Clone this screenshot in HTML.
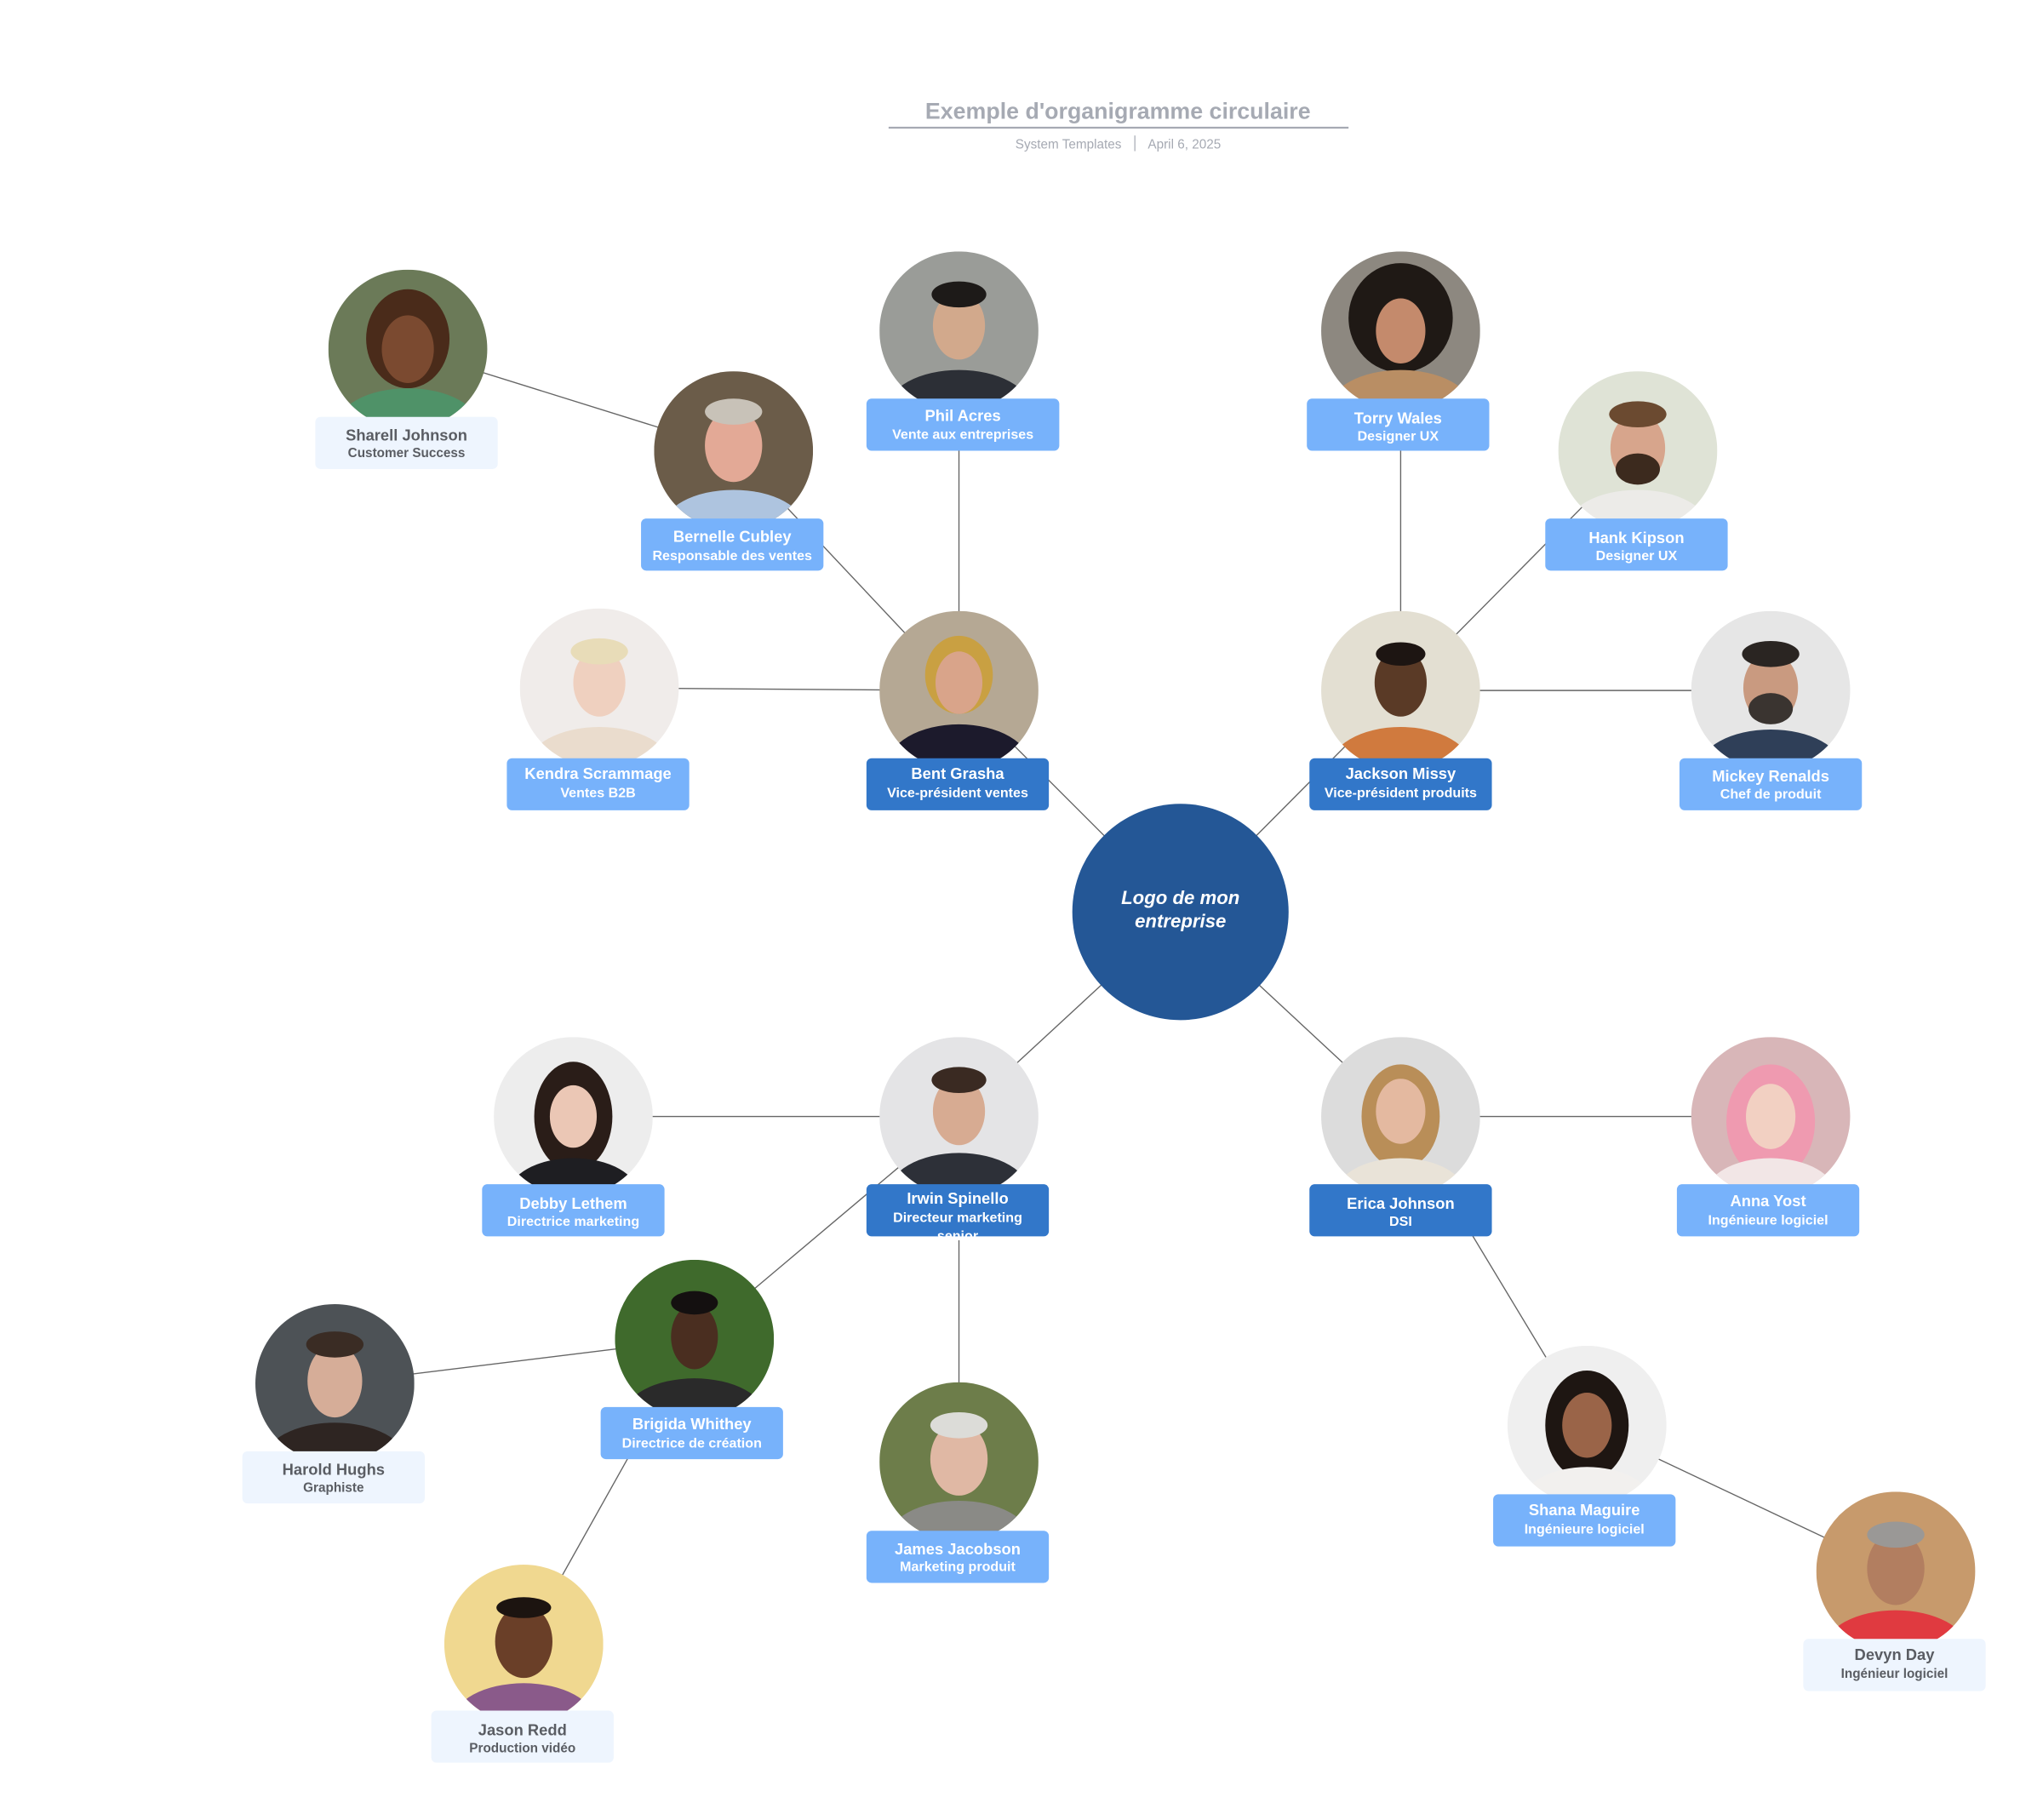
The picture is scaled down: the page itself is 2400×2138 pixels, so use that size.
<!DOCTYPE html>
<html><head><meta charset="utf-8"><style>
html,body{margin:0;padding:0;background:#fff;}
svg{display:block;}
text{font-family:"Liberation Sans",sans-serif;font-weight:bold;text-anchor:middle;}
.n{font-size:12px;fill:#fff;}
.r{font-size:10.5px;fill:#fff;}
.pn{font-size:12px;fill:#5a5d63;}
.pr{font-size:10px;fill:#5a5d63;}
</style></head><body>
<svg width="2400" height="2138" viewBox="0 0 1568 1397" preserveAspectRatio="none" xmlns="http://www.w3.org/2000/svg">
<defs><clipPath id="c"><circle cx="0" cy="0" r="61"/></clipPath></defs>
<rect width="1568" height="1397" fill="#fff"/>
<text x="858" y="91" style="font-size:17.5px;fill:#a6aab3">Exemple d'organigramme circulaire</text>
<line x1="682" y1="98" x2="1035" y2="98" stroke="#a6aab3" stroke-width="1.5"/>
<text x="820" y="114" style="font-size:10px;font-weight:normal;fill:#a6aab3">System Templates</text>
<line x1="871" y1="104" x2="871" y2="116" stroke="#a6aab3" stroke-width="0.8"/>
<text x="909" y="114" style="font-size:10px;font-weight:normal;fill:#a6aab3">April 6, 2025</text>

<g stroke="#666" stroke-width="0.9">
<line x1="906" y1="700" x2="736" y2="530"/>
<line x1="906" y1="700" x2="1075" y2="530"/>
<line x1="906" y1="700" x2="736" y2="857"/>
<line x1="906" y1="700" x2="1075" y2="857"/>
<line x1="736" y1="530" x2="736" y2="254"/>
<line x1="736" y1="530" x2="563" y2="346"/>
<line x1="736" y1="530" x2="460" y2="528"/>
<line x1="563" y1="346" x2="313" y2="268"/>
<line x1="1075" y1="530" x2="1075" y2="254"/>
<line x1="1075" y1="530" x2="1257" y2="346"/>
<line x1="1075" y1="530" x2="1359" y2="530"/>
<line x1="736" y1="857" x2="440" y2="857"/>
<line x1="736" y1="857" x2="533" y2="1028"/>
<line x1="736" y1="857" x2="736" y2="1122"/>
<line x1="533" y1="1028" x2="257" y2="1062"/>
<line x1="533" y1="1028" x2="402" y2="1262"/>
<line x1="1075" y1="857" x2="1359" y2="857"/>
<line x1="1075" y1="857" x2="1218" y2="1094"/>
<line x1="1218" y1="1094" x2="1455" y2="1206"/>
</g>

<circle cx="906" cy="700" r="83" fill="#245796"/>
<text x="906" y="694" style="font-size:14.5px;fill:#fff;font-style:italic">Logo de mon</text>
<text x="906" y="712" style="font-size:14.5px;fill:#fff;font-style:italic">entreprise</text>

<!-- photos -->
<g transform="translate(736,530)" clip-path="url(#c)"><rect x="-61" y="-61" width="122" height="122" fill="#b5a894"/><ellipse cx="0" cy="-12" rx="26" ry="30" fill="#c9a042"/><ellipse cx="0" cy="58" rx="55" ry="32" fill="#1c1a2c"/><ellipse cx="0" cy="-6" rx="18" ry="24" fill="#d9a48a"/></g>
<g transform="translate(1075,530)" clip-path="url(#c)"><rect x="-61" y="-61" width="122" height="122" fill="#e3dfd2"/><ellipse cx="0" cy="60" rx="55" ry="32" fill="#d07a3e"/><ellipse cx="0" cy="-6" rx="20" ry="26" fill="#5a3a26"/><ellipse cx="0" cy="-28" rx="19" ry="9" fill="#1d1512"/></g>
<g transform="translate(736,857)" clip-path="url(#c)"><rect x="-61" y="-61" width="122" height="122" fill="#e4e4e6"/><ellipse cx="0" cy="60" rx="55" ry="32" fill="#2d3038"/><ellipse cx="0" cy="-4" rx="20" ry="26" fill="#d7ab92"/><ellipse cx="0" cy="-28" rx="21" ry="10" fill="#3a2a22"/></g>
<g transform="translate(1075,857)" clip-path="url(#c)"><rect x="-61" y="-61" width="122" height="122" fill="#dcdcdc"/><ellipse cx="0" cy="0" rx="30" ry="40" fill="#b98e58"/><ellipse cx="0" cy="60" rx="50" ry="28" fill="#e9e3d8"/><ellipse cx="0" cy="-4" rx="19" ry="25" fill="#e4b9a0"/></g>
<g transform="translate(736,254)" clip-path="url(#c)"><rect x="-61" y="-61" width="122" height="122" fill="#9a9c98"/><ellipse cx="0" cy="60" rx="55" ry="30" fill="#2c2f36"/><ellipse cx="0" cy="-4" rx="20" ry="26" fill="#d2a98c"/><ellipse cx="0" cy="-28" rx="21" ry="10" fill="#1d1a18"/></g>
<g transform="translate(563,346)" clip-path="url(#c)"><rect x="-61" y="-61" width="122" height="122" fill="#6b5c49"/><ellipse cx="0" cy="60" rx="55" ry="30" fill="#aec4df"/><ellipse cx="0" cy="-4" rx="22" ry="28" fill="#e3a996"/><ellipse cx="0" cy="-30" rx="22" ry="10" fill="#c8c2b8"/></g>
<g transform="translate(313,268)" clip-path="url(#c)"><rect x="-61" y="-61" width="122" height="122" fill="#6b7a58"/><ellipse cx="0" cy="-8" rx="32" ry="38" fill="#4a2b1a"/><ellipse cx="0" cy="60" rx="55" ry="30" fill="#4f9268"/><ellipse cx="0" cy="0" rx="20" ry="26" fill="#7b4a30"/></g>
<g transform="translate(460,528)" clip-path="url(#c)"><rect x="-61" y="-61" width="122" height="122" fill="#f0ecea"/><ellipse cx="0" cy="60" rx="55" ry="30" fill="#eadccd"/><ellipse cx="0" cy="-4" rx="20" ry="26" fill="#efd0bf"/><ellipse cx="0" cy="-28" rx="22" ry="10" fill="#e8dcb8"/></g>
<g transform="translate(1075,254)" clip-path="url(#c)"><rect x="-61" y="-61" width="122" height="122" fill="#8d8880"/><ellipse cx="0" cy="-10" rx="40" ry="42" fill="#1f1915"/><ellipse cx="0" cy="60" rx="55" ry="30" fill="#b98e64"/><ellipse cx="0" cy="0" rx="19" ry="25" fill="#c48a6c"/></g>
<g transform="translate(1257,346)" clip-path="url(#c)"><rect x="-61" y="-61" width="122" height="122" fill="#dfe3d6"/><ellipse cx="0" cy="60" rx="55" ry="30" fill="#ecebe8"/><ellipse cx="0" cy="-2" rx="21" ry="27" fill="#d7a58c"/><ellipse cx="0" cy="14" rx="17" ry="12" fill="#3c2a1e"/><ellipse cx="0" cy="-28" rx="22" ry="10" fill="#6b4a30"/></g>
<g transform="translate(1359,530)" clip-path="url(#c)"><rect x="-61" y="-61" width="122" height="122" fill="#e6e6e6"/><ellipse cx="0" cy="60" rx="55" ry="30" fill="#2f3f58"/><ellipse cx="0" cy="-2" rx="21" ry="27" fill="#c99a80"/><ellipse cx="0" cy="14" rx="17" ry="12" fill="#3a3430"/><ellipse cx="0" cy="-28" rx="22" ry="10" fill="#2a2522"/></g>
<g transform="translate(440,857)" clip-path="url(#c)"><rect x="-61" y="-61" width="122" height="122" fill="#ededed"/><ellipse cx="0" cy="0" rx="30" ry="42" fill="#2a1d18"/><ellipse cx="0" cy="60" rx="50" ry="28" fill="#1e1e22"/><ellipse cx="0" cy="0" rx="18" ry="24" fill="#ebc7b5"/></g>
<g transform="translate(1359,857)" clip-path="url(#c)"><rect x="-61" y="-61" width="122" height="122" fill="#d8b6b8"/><ellipse cx="0" cy="4" rx="34" ry="44" fill="#ef9ab0"/><ellipse cx="0" cy="60" rx="50" ry="28" fill="#f2e6e6"/><ellipse cx="0" cy="0" rx="19" ry="25" fill="#f2d0c2"/></g>
<g transform="translate(533,1028)" clip-path="url(#c)"><rect x="-61" y="-61" width="122" height="122" fill="#3f6a2c"/><ellipse cx="0" cy="60" rx="55" ry="30" fill="#2a2a2a"/><ellipse cx="0" cy="-2" rx="18" ry="25" fill="#4a2e20"/><ellipse cx="0" cy="-28" rx="18" ry="9" fill="#141010"/></g>
<g transform="translate(257,1062)" clip-path="url(#c)"><rect x="-61" y="-61" width="122" height="122" fill="#4d5256"/><ellipse cx="0" cy="60" rx="55" ry="30" fill="#2e2522"/><ellipse cx="0" cy="-2" rx="21" ry="28" fill="#d6ad98"/><ellipse cx="0" cy="-30" rx="22" ry="10" fill="#3a2c24"/></g>
<g transform="translate(402,1262)" clip-path="url(#c)"><rect x="-61" y="-61" width="122" height="122" fill="#f0d890"/><ellipse cx="0" cy="60" rx="55" ry="30" fill="#8a5a8a"/><ellipse cx="0" cy="-2" rx="22" ry="28" fill="#6a3f28"/><ellipse cx="0" cy="-28" rx="21" ry="8" fill="#1c1410"/></g>
<g transform="translate(736,1122)" clip-path="url(#c)"><rect x="-61" y="-61" width="122" height="122" fill="#6d7d4a"/><ellipse cx="0" cy="60" rx="55" ry="30" fill="#8a8a86"/><ellipse cx="0" cy="-2" rx="22" ry="28" fill="#e0b8a4"/><ellipse cx="0" cy="-28" rx="22" ry="10" fill="#dcdcd8"/></g>
<g transform="translate(1218,1094)" clip-path="url(#c)"><rect x="-61" y="-61" width="122" height="122" fill="#efefef"/><ellipse cx="0" cy="0" rx="32" ry="42" fill="#1e1612"/><ellipse cx="0" cy="60" rx="50" ry="28" fill="#f2f0ee"/><ellipse cx="0" cy="0" rx="19" ry="25" fill="#9a6448"/></g>
<g transform="translate(1455,1206)" clip-path="url(#c)"><rect x="-61" y="-61" width="122" height="122" fill="#c79a6c"/><ellipse cx="0" cy="60" rx="55" ry="30" fill="#e03a40"/><ellipse cx="0" cy="-2" rx="22" ry="28" fill="#b27e60"/><ellipse cx="0" cy="-28" rx="22" ry="10" fill="#9a9896"/></g>

<!-- dark boxes -->
<g fill="#3277c9">
<rect x="665" y="582" width="140" height="40" rx="4"/>
<rect x="1005" y="582" width="140" height="40" rx="4"/>
<rect x="665" y="909" width="140" height="40" rx="4"/>
<rect x="1005" y="909" width="140" height="40" rx="4"/>
</g>
<text class="n" x="735" y="598">Bent Grasha</text><text class="r" x="735" y="612">Vice-président ventes</text>
<text class="n" x="1075" y="598">Jackson Missy</text><text class="r" x="1075" y="612">Vice-président produits</text>
<text class="n" x="735" y="924">Irwin Spinello</text><text class="r" x="735" y="938">Directeur marketing</text><text class="r" x="735" y="952">senior</text>
<text class="n" x="1075" y="928">Erica Johnson</text><text class="r" x="1075" y="941">DSI</text>

<!-- light boxes -->
<g fill="#77b2fb">
<rect x="665" y="306" width="148" height="40" rx="4"/>
<rect x="492" y="398" width="140" height="40" rx="4"/>
<rect x="389" y="582" width="140" height="40" rx="4"/>
<rect x="1003" y="306" width="140" height="40" rx="4"/>
<rect x="1186" y="398" width="140" height="40" rx="4"/>
<rect x="1289" y="582" width="140" height="40" rx="4"/>
<rect x="370" y="909" width="140" height="40" rx="4"/>
<rect x="1287" y="909" width="140" height="40" rx="4"/>
<rect x="461" y="1080" width="140" height="40" rx="4"/>
<rect x="665" y="1175" width="140" height="40" rx="4"/>
<rect x="1146" y="1147" width="140" height="40" rx="4"/>
</g>
<text class="n" x="739" y="323">Phil Acres</text><text class="r" x="739" y="337">Vente aux entreprises</text>
<text class="n" x="562" y="416">Bernelle Cubley</text><text class="r" x="562" y="430">Responsable des ventes</text>
<text class="n" x="459" y="598">Kendra Scrammage</text><text class="r" x="459" y="612">Ventes B2B</text>
<text class="n" x="1073" y="325">Torry Wales</text><text class="r" x="1073" y="338">Designer UX</text>
<text class="n" x="1256" y="417">Hank Kipson</text><text class="r" x="1256" y="430">Designer UX</text>
<text class="n" x="1359" y="600">Mickey Renalds</text><text class="r" x="1359" y="613">Chef de produit</text>
<text class="n" x="440" y="928">Debby Lethem</text><text class="r" x="440" y="941">Directrice marketing</text>
<text class="n" x="1357" y="926">Anna Yost</text><text class="r" x="1357" y="940">Ingénieure logiciel</text>
<text class="n" x="531" y="1097">Brigida Whithey</text><text class="r" x="531" y="1111">Directrice de création</text>
<text class="n" x="735" y="1193">James Jacobson</text><text class="r" x="735" y="1206">Marketing produit</text>
<text class="n" x="1216" y="1163">Shana Maguire</text><text class="r" x="1216" y="1177">Ingénieure logiciel</text>

<!-- pale boxes -->
<g fill="#eef5fe">
<rect x="242" y="320" width="140" height="40" rx="4"/>
<rect x="186" y="1114" width="140" height="40" rx="4"/>
<rect x="331" y="1313" width="140" height="40" rx="4"/>
<rect x="1384" y="1258" width="140" height="40" rx="4"/>
</g>
<text class="pn" x="312" y="338">Sharell Johnson</text><text class="pr" x="312" y="351">Customer Success</text>
<text class="pn" x="256" y="1132">Harold Hughs</text><text class="pr" x="256" y="1145">Graphiste</text>
<text class="pn" x="401" y="1332">Jason Redd</text><text class="pr" x="401" y="1345">Production vidéo</text>
<text class="pn" x="1454" y="1274">Devyn Day</text><text class="pr" x="1454" y="1288">Ingénieur logiciel</text>
</svg>
</body></html>
